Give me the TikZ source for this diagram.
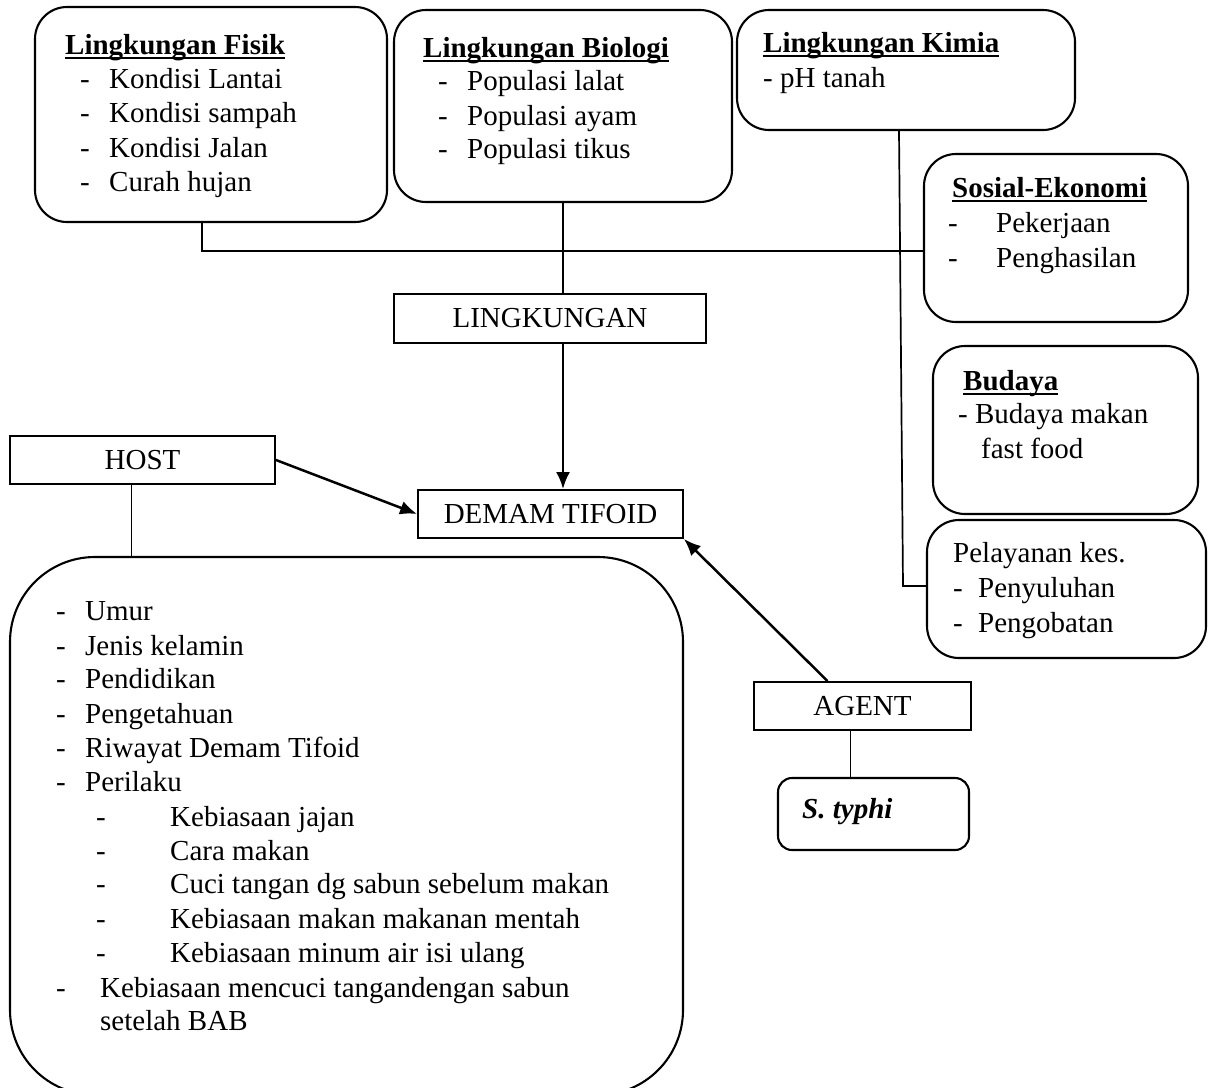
\documentclass[tikz,border=0pt]{standalone}
\usepackage{fontspec}
\setmainfont{Liberation Serif}
\usetikzlibrary{arrows.meta}
\newsavebox\ulsave
\newcommand\ulbox[1]{\sbox\ulsave{#1}\rlap{\rule[-5pt]{\wd\ulsave}{2pt}}\usebox\ulsave}
\newcommand\fs{\fontsize{29}{34.5}\selectfont}
\begin{document}
\begin{tikzpicture}[x=1pt,y=-1pt,
  rbox/.style={draw, line width=2.1pt, rounded corners=32pt, inner sep=0pt},
  sbox/.style={draw, line width=1.9pt, inner sep=0pt, font=\fs},
  txt/.style={anchor=base west, inner sep=0pt, font=\fs},
  con/.style={line width=1.7pt},
  arr/.style={line width=2.5pt, -{Latex[length=17pt,width=14pt]}}]
\useasboundingbox (0,0) rectangle (1209,1087);
% boxes
\node[rbox, minimum width=352pt, minimum height=215pt] (fis) at (211,114.5) {};
\node[rbox, minimum width=338pt, minimum height=192pt] (bio) at (563,106) {};
\node[rbox, minimum width=338pt, minimum height=120pt] (kim) at (906,70) {};
\node[rbox, minimum width=264pt, minimum height=168pt] (sos) at (1056,238) {};
\node[rbox, minimum width=265pt, minimum height=168pt] (bud) at (1065.5,430) {};
\node[rbox, minimum width=279pt, minimum height=138pt] (pel) at (1066.5,589) {};
\node[sbox, minimum width=312pt, minimum height=49pt] (lin) at (550,318.5) {LINGKUNGAN};
\node[sbox, minimum width=265pt, minimum height=48pt] (host) at (142.5,460) {HOST};
\node[sbox, minimum width=265pt, minimum height=48pt] (dem) at (550.5,514) {DEMAM TIFOID};
\node[rbox, rounded corners=85pt, minimum width=673pt, minimum height=538pt] (big) at (346.5,826) {};
\node[sbox, minimum width=217pt, minimum height=48pt] (agent) at (862.5,706) {AGENT};
\node[rbox, rounded corners=14pt, minimum width=191pt, minimum height=72pt] (typ) at (873.5,814) {};
% Fisik
\node[txt] (f0) at (65,54) {\bfseries\ulbox{Lingkungan Fisik}};
\node[txt] (f1d) at (80,88) {-};  \node[txt] (f1) at (109,88) {Kondisi Lantai};
\node[txt] (f2d) at (80,122) {-}; \node[txt] (f2) at (109,122) {Kondisi sampah};
\node[txt] (f3d) at (80,157) {-}; \node[txt] (f3) at (109,157) {Kondisi Jalan};
\node[txt] (f4d) at (80,191) {-}; \node[txt] (f4) at (109,191) {Curah hujan};
% Biologi
\node[txt] (b0) at (423,57) {\bfseries\ulbox{Lingkungan Biologi}};
\node[txt] (b1d) at (438,90) {-};  \node[txt] (b1) at (467,90) {Populasi lalat};
\node[txt] (b2d) at (438,125) {-}; \node[txt] (b2) at (467,125) {Populasi ayam};
\node[txt] (b3d) at (438,158) {-}; \node[txt] (b3) at (467,158) {Populasi tikus};
% Kimia
\node[txt] (k0) at (763,52) {\bfseries\ulbox{Lingkungan Kimia}};
\node[txt] (k1) at (763,87) {- pH tanah};
% Sosial
\node[txt] (s0) at (952,197) {\bfseries\ulbox{Sosial-Ekonomi}};
\node[txt] (s1d) at (948,232) {-}; \node[txt] (s1) at (996,232) {Pekerjaan};
\node[txt] (s2d) at (948,267) {-}; \node[txt] (s2) at (996,267) {Penghasilan};
% Budaya
\node[txt] (u0) at (963,390) {\bfseries\ulbox{Budaya}};
\node[txt] (u1) at (958,423) {- Budaya makan};
\node[txt] (u2) at (981,458) {fast food};
% Pelayanan
\node[txt] (p0) at (953,562) {Pelayanan kes.};
\node[txt] (p1d) at (953,597) {-}; \node[txt] (p1) at (978,597) {Penyuluhan};
\node[txt] (p2d) at (953,632) {-}; \node[txt] (p2) at (978,632) {Pengobatan};
% S. typhi
\node[txt] (t0) at (802,818) {\bfseries\itshape S. typhi};
% Host list
\node[txt] (h1d) at (56,620) {-}; \node[txt] (h1) at (85,620) {Umur};
\node[txt] (h2d) at (56,655) {-}; \node[txt] (h2) at (85,655) {Jenis kelamin};
\node[txt] (h3d) at (56,688) {-}; \node[txt] (h3) at (85,688) {Pendidikan};
\node[txt] (h4d) at (56,723) {-}; \node[txt] (h4) at (85,723) {Pengetahuan};
\node[txt] (h5d) at (56,757) {-}; \node[txt] (h5) at (85,757) {Riwayat Demam Tifoid};
\node[txt] (h6d) at (56,791) {-}; \node[txt] (h6) at (85,791) {Perilaku};
\node[txt] (h7d) at (96,826) {-}; \node[txt] (h7) at (170,826) {Kebiasaan jajan};
\node[txt] (h8d) at (96,860) {-}; \node[txt] (h8) at (170,860) {Cara makan};
\node[txt] (h9d) at (96,893) {-}; \node[txt] (h9) at (170,893) {Cuci tangan dg sabun sebelum makan};
\node[txt] (h10d) at (96,928) {-}; \node[txt] (h10) at (170,928) {Kebiasaan makan makanan mentah};
\node[txt] (h11d) at (96,962) {-}; \node[txt] (h11) at (170,962) {Kebiasaan minum air isi ulang};
\node[txt] (h12d) at (56,997) {-}; \node[txt] (h12) at (100,997) {Kebiasaan mencuci tangandengan sabun};
\node[txt] (h13) at (100,1030) {setelah BAB};
% connectors
\draw[con] ([xshift=-9pt]fis.south) |- ([yshift=-13pt]sos.west);
\draw[con] (bio.south) -- (bio.south |- lin.north);
\coordinate (kb) at (903,586);
\draw[con] ([xshift=-7pt]kim.south) -- (kb) -- (kb -| pel.west);
\draw[arr] (bio.south |- lin.south) -- (bio.south |- dem.north);
\draw[arr] (host.east) -- (dem.west);
\draw[con] ([xshift=-11pt]host.south) -- ([xshift=-11pt]host.south |- big.north);
\draw[arr] ([xshift=-35pt]agent.north) -- (dem.south east);
\draw[con] ([xshift=-12pt]agent.south) -- ([xshift=-12pt]agent.south |- typ.north);
\end{tikzpicture}
\end{document}
